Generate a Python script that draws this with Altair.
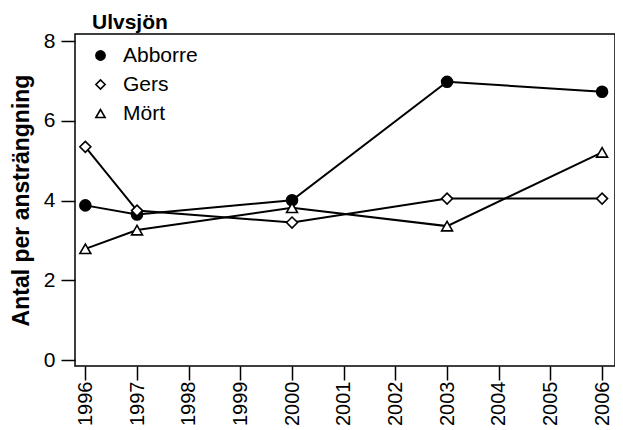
import altair as alt
import pandas as pd

years = [1996, 1997, 2000, 2003, 2006]
species = ["Abborre", "Gers", "Mört"]
abborre = [3.88, 3.65, 4.01, 6.98, 6.73]
gers = [5.35, 3.75, 3.45, 4.05, 4.05]
mort = [2.79, 3.26, 3.82, 3.36, 5.21]
year_ticks = list(range(1996, 2007))
y_ticks = [0, 2, 4, 6, 8]

rows = []
for name, vals in zip(species, [abborre, gers, mort]):
    for yr, v in zip(years, vals):
        rows.append({"year": yr, "value": v, "species": name})
df = pd.DataFrame(rows)

FONT = "Liberation Sans"

x = alt.X(
    "year:Q",
    scale=alt.Scale(domain=[1995.8, 2006.25], nice=False, zero=False),
    axis=alt.Axis(
        values=year_ticks, format="d", labelAngle=270, labelFontSize=20,
        labelFont=FONT, labelColor="black", tickSize=14, tickWidth=1.5,
        tickColor="black", labelPadding=1, domain=False, grid=False,
        title=None, labelOverlap=False, labelFlush=False,
    ),
)
y = alt.Y(
    "value:Q",
    scale=alt.Scale(domain=[-0.15, 8.18], nice=False, zero=False),
    axis=alt.Axis(
        values=y_ticks, labelFontSize=21, labelFont=FONT, labelColor="black",
        tickSize=14, tickWidth=1.5, tickColor="black", labelPadding=6,
        domain=False, grid=False, title="Antal per ansträngning",
        titleFont=FONT, titleFontSize=23, titleFontWeight="bold",
        titleColor="black", titleAngle=270, titleBaseline="alphabetic",
        titleAlign="center", titleX=-47, titleY=166, labelFlush=False,
    ),
)

legend = alt.Legend(
    title=None, orient="none", legendX=15, legendY=11,
    labelFont=FONT, labelFontSize=21, labelColor="black",
    symbolSize=85, symbolStrokeWidth=1.6, labelOffset=12,
    rowPadding=7, padding=0,
)

lines = alt.Chart(df).mark_line(color="black", strokeWidth=2).encode(
    x=x, y=y, detail="species:N"
)

points = alt.Chart(df).mark_point(strokeWidth=1.6, opacity=1, size=120).encode(
    x=x,
    y=y,
    shape=alt.Shape(
        "species:N",
        scale=alt.Scale(domain=species, range=["circle", "diamond", "triangle-up"]),
        legend=legend,
    ),
    fill=alt.Fill(
        "species:N",
        scale=alt.Scale(domain=species, range=["black", "white", "white"]),
        legend=legend,
    ),
    stroke=alt.Stroke(
        "species:N",
        scale=alt.Scale(domain=species, range=["black", "black", "black"]),
        legend=legend,
    ),
)

chart = (
    alt.layer(lines, points)
    .properties(
        width=540,
        height=332,
        background="white",
        title=alt.TitleParams(
            "Ulvsjön", anchor="start", frame="group", font=FONT, fontSize=21,
            fontWeight="bold", color="black", dx=17, dy=25, offset=5,
            baseline="alphabetic",
        ),
        autosize=alt.AutoSizeParams(type="none"),
        padding={"left": 67, "top": 26, "right": 0, "bottom": 62},
    )
    .configure_view(stroke="black", strokeWidth=1.5)
)

chart.save("out.html", embed_options={"renderer": "svg", "actions": False})
